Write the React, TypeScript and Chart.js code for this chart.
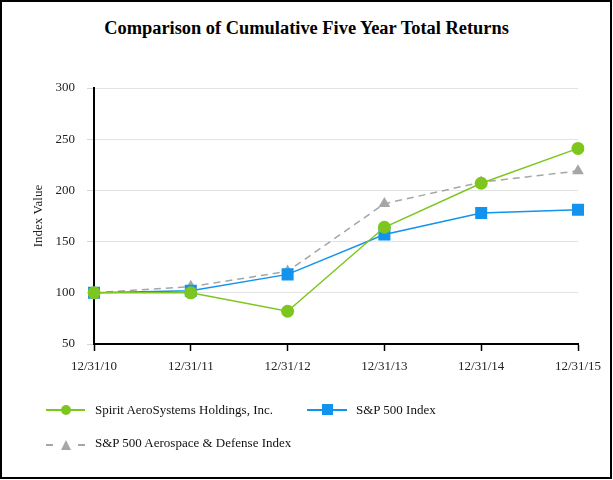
import React, { useEffect, useRef } from "react";
import { Chart, registerables } from "chart.js";

Chart.register(...registerables);

const categories = ["12/31/10", "12/31/11", "12/31/12", "12/31/13", "12/31/14", "12/31/15"];
const spiritValues = [100, 100, 82, 164, 207, 241];
const sp500Values = [100, 102, 118, 157, 178, 181];
const aeroDefenseValues = [100, 106, 121, 187, 208, 219];
const yTicks = [50, 100, 150, 200, 250, 300];
const seriesNames = [
  "Spirit AeroSystems Holdings, Inc.",
  "S&P 500 Index",
  "S&P 500 Aerospace & Defense Index",
];
const chartTitle = "Comparison of Cumulative Five Year Total Returns";
const yAxisTitle = "Index Value";

const GREEN = "#7DC61E";
const BLUE = "#1193EE";
const GREY = "#A6A6A6";
const FONT = "'Liberation Serif', 'Times New Roman', serif";

function Legend() {
  const textStyle: React.CSSProperties = {
    position: "absolute",
    fontFamily: FONT,
    fontSize: "13px",
    lineHeight: "13px",
    color: "#111",
    whiteSpace: "nowrap",
  };
  return (
    <>
      {/* Spirit */}
      <div style={{ position: "absolute", left: 46, top: 408.5, width: 39, height: 2, background: GREEN }} />
      <div style={{ position: "absolute", left: 61, top: 404.5, width: 10, height: 10, borderRadius: "50%", background: GREEN }} />
      <div style={{ ...textStyle, left: 95, top: 403 }}>{seriesNames[0]}</div>
      {/* S&P 500 */}
      <div style={{ position: "absolute", left: 307, top: 408.5, width: 40, height: 2, background: BLUE }} />
      <div style={{ position: "absolute", left: 321.5, top: 404, width: 11, height: 11, background: BLUE }} />
      <div style={{ ...textStyle, left: 356, top: 403 }}>{seriesNames[1]}</div>
      {/* A&D */}
      <div style={{ position: "absolute", left: 46, top: 443.5, width: 7, height: 2, background: GREY }} />
      <div
        style={{
          position: "absolute",
          left: 60.5,
          top: 440,
          width: 0,
          height: 0,
          borderLeft: "5.5px solid transparent",
          borderRight: "5.5px solid transparent",
          borderBottom: "10px solid " + GREY,
        }}
      />
      <div style={{ position: "absolute", left: 78, top: 443.5, width: 7, height: 2, background: GREY }} />
      <div style={{ ...textStyle, left: 95, top: 436 }}>{seriesNames[2]}</div>
    </>
  );
}

export default function App() {
  const canvasRef = useRef<HTMLCanvasElement | null>(null);

  useEffect(() => {
    const canvas = canvasRef.current;
    if (!canvas) return;
    const tickFont = { family: FONT, size: 13 };
    const chart = new Chart(canvas, {
      type: "line",
      data: {
        labels: categories,
        datasets: [
          {
            label: seriesNames[0],
            data: spiritValues,
            borderColor: GREEN,
            backgroundColor: GREEN,
            borderWidth: 1.5,
            pointStyle: "circle",
            pointRadius: 6.5,
            pointBorderWidth: 0,
            tension: 0,
          },
          {
            label: seriesNames[1],
            data: sp500Values,
            borderColor: BLUE,
            backgroundColor: BLUE,
            borderWidth: 1.5,
            pointStyle: "rect",
            pointRadius: 8.5,
            pointBorderWidth: 0,
            tension: 0,
          },
          {
            label: seriesNames[2],
            data: aeroDefenseValues,
            borderColor: GREY,
            backgroundColor: GREY,
            borderWidth: 1.5,
            borderDash: [7, 5],
            pointStyle: "triangle",
            pointRadius: 6.8,
            pointBorderWidth: 0,
            tension: 0,
          },
        ],
      },
      options: {
        responsive: false,
        animation: false,
        events: [],
        layout: { padding: { left: 0, top: 88, right: 35, bottom: 106 } },
        plugins: {
          legend: { display: false },
          title: { display: false },
          tooltip: { enabled: false },
        },
        scales: {
          x: {
            type: "category",
            offset: false,
            grid: {
              display: true,
              drawOnChartArea: false,
              drawTicks: true,
              tickLength: 7,
              tickColor: "#000",
              tickWidth: 1.5,
            },
            border: { display: true, color: "#000", width: 2 },
            ticks: {
              color: "#222",
              font: tickFont,
              padding: 8,
              maxRotation: 0,
              autoSkip: false,
            },
            afterFit: (s: any) => {
              s.height = 30;
            },
          },
          y: {
            type: "linear",
            min: 50,
            max: 300,
            afterBuildTicks: (s: any) => {
              s.ticks = yTicks.map((v) => ({ value: v }));
            },
            grid: {
              color: "#e3e3e3",
              tickColor: "#d6d6d6",
              tickLength: 7,
              lineWidth: 1,
            },
            border: { display: true, color: "#000", width: 2 },
            ticks: { color: "#222", font: tickFont, padding: 12 },
            title: {
              display: true,
              text: yAxisTitle,
              color: "#222",
              font: { family: FONT, size: 13 },
              padding: { top: 31, bottom: 0 },
            },
            afterFit: (s: any) => {
              s.width = 94;
            },
          },
        },
      },
    } as any);
    return () => chart.destroy();
  }, []);

  return (
    <div style={{ position: "fixed", left: 0, top: 0, width: 613, height: 480, background: "#fff", overflow: "hidden" }}>
      <div
        style={{
          position: "absolute",
          left: 0,
          top: 0,
          width: 612,
          height: 479,
          border: "2px solid #000",
          boxSizing: "border-box",
        }}
      />
      <div
        style={{
          position: "absolute",
          left: 0,
          top: 18.9,
          width: 613,
          textAlign: "center",
          fontFamily: FONT,
          fontWeight: "bold",
          fontSize: "18.4px",
          lineHeight: "18.4px",
          color: "#000",
          whiteSpace: "nowrap",
        }}
      >
        {chartTitle}
      </div>
      <canvas
        ref={canvasRef}
        width={613}
        height={480}
        style={{ position: "absolute", left: 0, top: 0, width: 613, height: 480 }}
      />
      <Legend />
    </div>
  );
}
